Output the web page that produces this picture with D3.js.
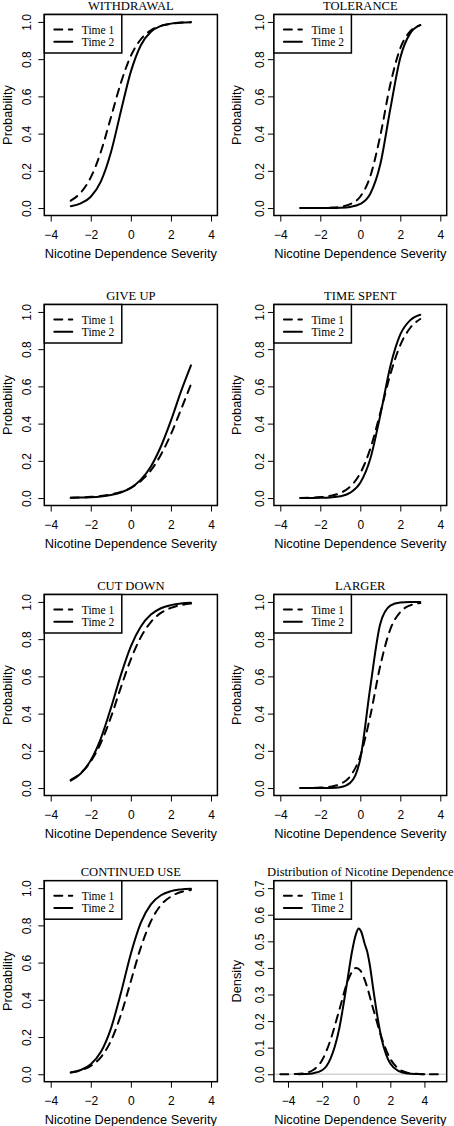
<!DOCTYPE html>
<html><head><meta charset="utf-8">
<script src="https://cdn.jsdelivr.net/npm/d3@7"></script>
<style>body{margin:0;background:#fff}svg{display:block}</style>
</head><body><svg id="c" width="454" height="1126"></svg>
<script>
// ---- data ----
const seriesLabels = ["Time 1", "Time 2"];
const probX = [-3,-2.5,-2,-1.5,-1,-0.5,0,0.5,1,1.5,2,2.5,3];
const panelTitles = ["WITHDRAWAL","TOLERANCE","GIVE UP","TIME SPENT","CUT DOWN","LARGER","CONTINUED USE","Distribution of Nicotine Dependence"];
const withdrawalT1 = [0.040,0.083,0.165,0.301,0.485,0.672,0.818,0.907,0.955,0.979,0.990,0.996,0.998];
const withdrawalT2 = [0.010,0.025,0.061,0.142,0.297,0.519,0.733,0.875,0.947,0.979,0.991,0.997,0.999];
const toleranceT1 = [0.0001,0.0002,0.0007,0.0022,0.0069,0.021,0.062,0.171,0.389,0.664,0.859,0.950,0.983];
const toleranceT2 = [0.0000,0.0000,0.0001,0.0004,0.0016,0.006,0.022,0.077,0.235,0.532,0.808,0.940,0.983];
const giveUpT1 = [0.0022,0.0038,0.0065,0.011,0.019,0.033,0.055,0.092,0.149,0.233,0.343,0.475,0.611];
const giveUpT2 = [0.0014,0.0026,0.0048,0.0089,0.0165,0.030,0.055,0.099,0.170,0.277,0.416,0.572,0.713];
const timeSpentT1 = [0.0009,0.0022,0.0051,0.012,0.027,0.062,0.134,0.265,0.458,0.664,0.822,0.915,0.962];
const timeSpentT2 = [0.0001,0.0004,0.0011,0.0033,0.0098,0.029,0.082,0.211,0.445,0.707,0.879,0.956,0.985];
const cutDownT1 = [0.044,0.080,0.143,0.242,0.379,0.540,0.692,0.811,0.892,0.941,0.968,0.983,0.991];
const cutDownT2 = [0.040,0.078,0.149,0.266,0.428,0.607,0.761,0.868,0.932,0.966,0.983,0.992,0.996];
const largerT1 = [0.0003,0.0008,0.0025,0.0074,0.022,0.064,0.172,0.388,0.658,0.853,0.946,0.982,0.994];
const largerT2 = [0.0000,0.0000,0.0001,0.0007,0.0046,0.028,0.157,0.542,0.883,0.980,0.997,0.9995,0.9999];
const continuedT1 = [0.010,0.021,0.045,0.091,0.178,0.318,0.500,0.682,0.822,0.909,0.955,0.979,0.990];
const continuedT2 = [0.010,0.023,0.054,0.119,0.244,0.435,0.648,0.815,0.913,0.962,0.984,0.993,0.997];
const densT1x = [-4.45,-4,-3.5,-3,-2.5,-2,-1.5,-1,-0.5,-0.25,0,0.25,0.5,1,1.5,2,2.5,3,3.5,4,4.93];
const densT1y = [0.0001,0.0003,0.001,0.005,0.017,0.053,0.13,0.24,0.35,0.385,0.40,0.39,0.355,0.245,0.135,0.058,0.02,0.006,0.0015,0.0004,0.0001];
const densT2x = [-3.4,-3,-2.5,-2,-1.75,-1.5,-1.25,-1,-0.75,-0.5,-0.25,0,0.15,0.3,0.5,0.65,0.8,1,1.25,1.5,1.75,2,2.5,3,3.5,4];
const densT2y = [0.0003,0.001,0.004,0.015,0.03,0.06,0.105,0.17,0.26,0.36,0.46,0.53,0.548,0.535,0.49,0.46,0.41,0.32,0.215,0.13,0.075,0.04,0.012,0.003,0.0008,0.0002];
const sevTicks = [-4,-2,0,2,4];
const probTicks = [0,0.2,0.4,0.6,0.8,1.0];
const densTicks = [0,0.1,0.2,0.3,0.4,0.5,0.6,0.7];
const xLabel = "Nicotine Dependence Severity";
const yLabels = ["Probability","Density"];

// ---- layout ----
const cols = [
  {L:44.3, R:217.4, tickOff:17.5, labOff:37.3},
  {L:273.9, R:446.7, tickOff:14, labOff:37}
];
const rowTops = [14.5, 304.5, 594.5, 880.7];
const boxH = 201;
const serif = "'Liberation Serif','Times New Roman',serif";
const sans = "'Liberation Sans',Arial,Helvetica,sans-serif";

const probSeries = [
  [withdrawalT1, withdrawalT2],[toleranceT1, toleranceT2],
  [giveUpT1, giveUpT2],[timeSpentT1, timeSpentT2],
  [cutDownT1, cutDownT2],[largerT1, largerT2],
  [continuedT1, continuedT2]
];

const svg = d3.select("#c");
const ext = (a,b) => { const r=b-a; return [a-0.04*r, b+0.04*r]; };

function drawPanel(i){
  const col = cols[i%2], top = rowTops[Math.floor(i/2)], bottom = top+boxH;
  const isDens = i===7;
  let series, xDom, yDom, yTicks;
  if(!isDens){
    series = probSeries[i].map(v => probX.map((xx,k)=>[xx, v[k]]));
    xDom = ext(-4,4); yDom = ext(0,1); yTicks = probTicks;
  } else {
    series = [densT1x.map((xx,k)=>[xx,densT1y[k]]), densT2x.map((xx,k)=>[xx,densT2y[k]])];
    xDom = ext(d3.min(densT1x), d3.max(densT1x)); yDom = ext(0,0.7); yTicks = densTicks;
  }
  const x = d3.scaleLinear().domain(xDom).range([col.L, col.R]);
  const y = d3.scaleLinear().domain(yDom).range([bottom, top]);
  const g = svg.append("g");

  // x axis
  const ax = g.append("g").attr("transform",`translate(0,${bottom})`)
    .call(d3.axisBottom(x).tickValues(sevTicks).tickSize(6).tickSizeOuter(0).tickPadding(9).tickFormat(d3.format("d")));
  ax.select(".domain").remove();
  ax.selectAll("line").attr("stroke","#000").attr("stroke-width",1);
  ax.selectAll("text").attr("font-family",sans).attr("font-size",12).attr("fill","#000");

  // y axis
  const ay = g.append("g").attr("transform",`translate(${col.L},0)`)
    .call(d3.axisLeft(y).tickValues(yTicks).tickSize(6).tickSizeOuter(0).tickFormat(d3.format(".1f")));
  ay.select(".domain").remove();
  ay.selectAll("line").attr("stroke","#000").attr("stroke-width",1);
  ay.selectAll("text").attr("font-family",sans).attr("font-size",12).attr("fill","#000")
    .attr("x",null).attr("dy",null).attr("text-anchor","middle").attr("dominant-baseline","central")
    .attr("transform",`translate(${-col.tickOff},0) rotate(-90)`);

  // axis titles
  g.append("text").attr("x",(col.L+col.R)/2).attr("y",bottom+42)
    .attr("text-anchor","middle").attr("font-family",sans).attr("font-size",12.8).text(xLabel);
  g.append("text").attr("transform",`translate(${col.L-col.labOff},${(top+bottom)/2}) rotate(-90)`)
    .attr("text-anchor","middle").attr("dominant-baseline","central")
    .attr("font-family",sans).attr("font-size",12.8).text(yLabels[isDens?1:0]);

  // title
  g.append("text").attr("x",(col.L+col.R)/2).attr("y",top-5)
    .attr("text-anchor","middle").attr("font-family",serif).attr("font-size",12.6).text(panelTitles[i]);

  // zero line for density
  if(isDens){
    g.append("line").attr("x1",col.L).attr("x2",col.R).attr("y1",y(0)).attr("y2",y(0))
      .attr("stroke","#d4d4d4").attr("stroke-width",1.5);
  }

  // curves
  const line = d3.line().x(d=>x(d[0])).y(d=>y(d[1])).curve(d3.curveMonotoneX);
  series.forEach((s,k)=>{
    g.append("path").datum(s).attr("d",line).attr("fill","none").attr("stroke","#000")
      .attr("stroke-width",2).attr("stroke-linecap","round").attr("stroke-linejoin","round")
      .attr("stroke-dasharray", k===0 ? "8,6.5" : null);
  });

  // box
  g.append("rect").attr("x",col.L).attr("y",top).attr("width",col.R-col.L).attr("height",boxH)
    .attr("fill","none").attr("stroke","#000").attr("stroke-width",1.5);

  // legend
  const lg = g.append("g").attr("transform",`translate(${col.L},${top})`);
  lg.append("rect").attr("x",0).attr("y",0).attr("width",77.5).attr("height",38.5)
    .attr("fill","#fff").attr("stroke","#000").attr("stroke-width",1.5);
  seriesLabels.forEach((lab,k)=>{
    const yy = 15 + k*12.3;
    lg.append("line").attr("x1",10).attr("x2",28).attr("y1",yy).attr("y2",yy)
      .attr("stroke","#000").attr("stroke-width",2).attr("stroke-linecap","round")
      .attr("stroke-dasharray", k===0 ? "8,6.5" : null);
    lg.append("text").attr("x",37.5).attr("y",yy).attr("dominant-baseline","central")
      .attr("font-family",serif).attr("font-size",11.5).text(lab);
  });
}

for(let i=0;i<8;i++) drawPanel(i);
</script>
</body></html>
